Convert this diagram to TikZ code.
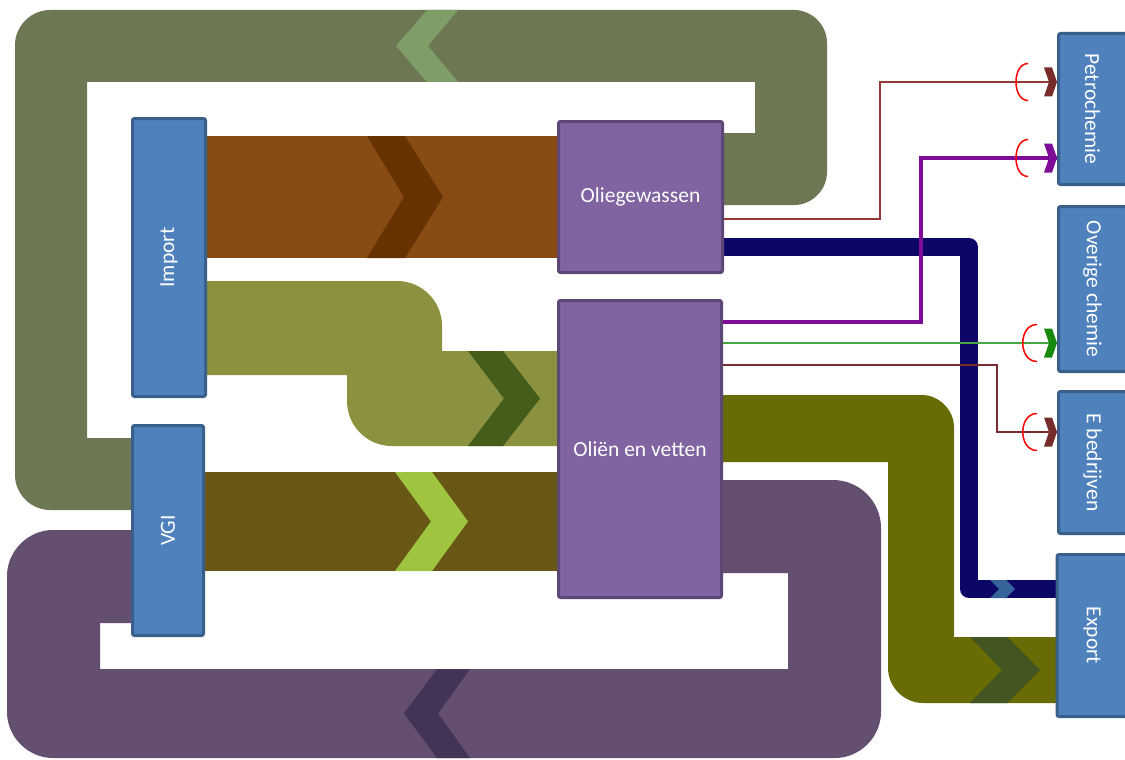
\documentclass[tikz,border=0pt]{standalone}
\usepackage{fontspec}
\setmainfont{Carlito}
\usetikzlibrary{backgrounds}
\definecolor{loopgreen}{HTML}{6D7753}
\definecolor{loopgreenchev}{HTML}{7F9D67}
\definecolor{brownband}{HTML}{874B13}
\definecolor{brownchev}{HTML}{663300}
\definecolor{lightolive}{HTML}{8B913F}
\definecolor{lightolivechev}{HTML}{445D1A}
\definecolor{vgiband}{HTML}{685715}
\definecolor{vgichev}{HTML}{9FC43F}
\definecolor{loopviolet}{HTML}{654F70}
\definecolor{loopvioletchev}{HTML}{433354}
\definecolor{oliveband}{HTML}{696C05}
\definecolor{olivechev}{HTML}{435520}
\definecolor{navyband}{HTML}{0C0766}
\definecolor{navychev}{HTML}{36639A}
\definecolor{boxblue}{HTML}{4F81BD}
\definecolor{boxblueline}{HTML}{3A5F8B}
\definecolor{boxviolet}{HTML}{8064A2}
\definecolor{boxvioletline}{HTML}{5C4776}
\definecolor{linered}{HTML}{953735}
\definecolor{tipred}{HTML}{772C2A}
\definecolor{linepurple}{HTML}{7F0B99}
\definecolor{linegreen}{HTML}{4AA545}
\definecolor{tipgreen}{HTML}{168A0D}
\definecolor{lineebrown}{HTML}{7A2C33}
\tikzset{
  boxtext/.style={text=white, font=\fontsize{21.5}{25}\selectfont, inner sep=0pt},
  bluebox/.style={boxtext, draw=boxblueline, fill=boxblue, line width=3pt, rounded corners=2pt},
  violetbox/.style={boxtext, draw=boxvioletline, fill=boxviolet, line width=3pt, rounded corners=2pt},
  thinflow/.style={line width=1.5pt},
  arcmark/.style={draw=red, line width=1.5pt},
  barbtip/.pic={\fill (-13,-14.5) -- (-5,-14.5) -- (0,0) -- (-5,14.5) -- (-13,14.5) -- (-8,0) -- cycle;}
}
\begin{document}
\begin{tikzpicture}[x=1pt,y=-1pt]
\useasboundingbox (0,0) rectangle (1125,760);

% boxes
\node[bluebox, rotate=90, minimum width=278pt, minimum height=73pt] (imp) at (169,257.5) {Import};
\node[bluebox, rotate=90, minimum width=210pt, minimum height=71pt] (vgi) at (168,530.5) {VGI};
\node[violetbox, minimum width=164pt, minimum height=151pt] (og) at (640.5,197) {Oliegewassen};
\node[violetbox, minimum width=163pt, minimum height=297pt] (ov) at (640,449) {Oliën en vetten};
\node[bluebox, rotate=-90, minimum width=151pt, minimum height=68pt] (petro) at (1092.5,109) {Petrochemie};
\node[bluebox, rotate=-90, minimum width=165pt, minimum height=68pt] (ovc) at (1092.5,289) {Overige chemie};
\node[bluebox, rotate=-90, minimum width=142pt, minimum height=68pt] (eb) at (1092.5,462.5) {E bedrijven};
\node[bluebox, rotate=-90, minimum width=162pt, minimum height=70pt] (exp) at (1092,635.5) {Export};

\begin{pgfonlayer}{background}
\fill[white] (0,0) rectangle (1125,760);
% grey-green loop
\fill[loopgreen] (720,205) -- (794,205) .. controls (812,205) and (827,190) .. (827,172)
  -- (827,43) .. controls (827,25) and (812,10) .. (794,10)
  -- (50,10) .. controls (31,10) and (15,26) .. (15,45)
  -- (15,475) .. controls (15,494) and (31,510) .. (50,510)
  -- (140,510) -- (140,438) -- (87,438) -- (87,82) -- (755,82) -- (755,133) -- (720,133) -- cycle;
\fill[loopgreenchev] (427,10) -- (396,46) -- (427,82) -- (458,82) -- (428,46) -- (458,10) -- cycle;
% brown band
\fill[brownband] (200,136) rectangle (560,258);
\fill[brownchev] (367,136) -- (405,136) -- (443,197) -- (405,258) -- (367,258) -- (404,197) -- cycle;
% light olive band
\fill[lightolive] (200,281) -- (397,281) .. controls (422,281) and (442,301) .. (442,326)
  -- (442,351) -- (560,351) -- (560,446) -- (392,446) .. controls (367,446) and (347,426) .. (347,401)
  -- (347,375) -- (200,375) -- cycle;
\fill[lightolivechev] (468,351) -- (503,351) -- (540,398.5) -- (503,446) -- (468,446) -- (504,398.5) -- cycle;
% VGI band
\fill[vgiband] (200,472) rectangle (560,571);
\fill[vgichev] (395,472) -- (432,472) -- (468,521.5) -- (432,571) -- (395,571) -- (431,521.5) -- cycle;
% violet loop
\fill[loopviolet] (720,480) -- (833,480) .. controls (859.5,480) and (881,501.5) .. (881,528)
  -- (881,712) .. controls (881,737) and (860,758) .. (835,758)
  -- (53,758) .. controls (28,758) and (7,737) .. (7,712)
  -- (7,576) .. controls (7,551) and (28,530) .. (53,530)
  -- (140,530) -- (140,623) -- (100,623) -- (100,669) -- (788,669) -- (788,573) -- (720,573) -- cycle;
\fill[loopvioletchev] (437,669) -- (404,713.5) -- (437,758) -- (470,758) -- (438,713.5) -- (470,669) -- cycle;
% olive band to export
\fill[oliveband] (720,395) -- (922,395) .. controls (939,395) and (954,410) .. (954,427)
  -- (954,637) -- (1060,637) -- (1060,703) -- (923,703) .. controls (904,703) and (888,687) .. (888,668)
  -- (888,462) -- (720,462) -- cycle;
\fill[olivechev] (970,637) -- (1007,637) -- (1040,670) -- (1007,703) -- (970,703) -- (1002,670) -- cycle;
% navy band
\draw[navyband, line width=18pt, line join=round] (og.east |- 0,247) -- (969,247) -- (969,589) -- (exp.south |- 0,589);
\fill[navychev] (990,580) -- (1006,580) -- (1015,589) -- (1006,598) -- (990,598) -- (999,589) -- cycle;
\end{pgfonlayer}

% thin flows
\draw[thinflow, linered] (og.east |- 0,219) -- (880,219) |- (petro.south |- 0,82);
\draw[line width=4pt, linepurple] (ov.east |- 0,322) -- (921,322) |- (petro.south |- 0,158);
\draw[thinflow, linegreen] (ov.east |- 0,343) -- (ovc.south |- 0,343);
\draw[thinflow, lineebrown] (ov.east |- 0,365) -- (997,365) |- (eb.south |- 0,432);

\pic[color=tipred] at (petro.south |- 0,82) {barbtip};
\pic[color=linepurple] at (petro.south |- 0,158) {barbtip};
\pic[color=tipgreen] at (ovc.south |- 0,343) {barbtip};
\pic[color=tipred] at (eb.south |- 0,432) {barbtip};

\draw[arcmark] (1028,63.5) .. controls (1012,63.5) and (1012,100.5) .. (1028,100.5);
\draw[arcmark] (1028,139.5) .. controls (1012,139.5) and (1012,176.5) .. (1028,176.5);
\draw[arcmark] (1037,324.5) .. controls (1018,324.5) and (1018,361.5) .. (1037,361.5);
\draw[arcmark] (1037,413.5) .. controls (1018,413.5) and (1018,450.5) .. (1037,450.5);
\end{tikzpicture}
\end{document}
